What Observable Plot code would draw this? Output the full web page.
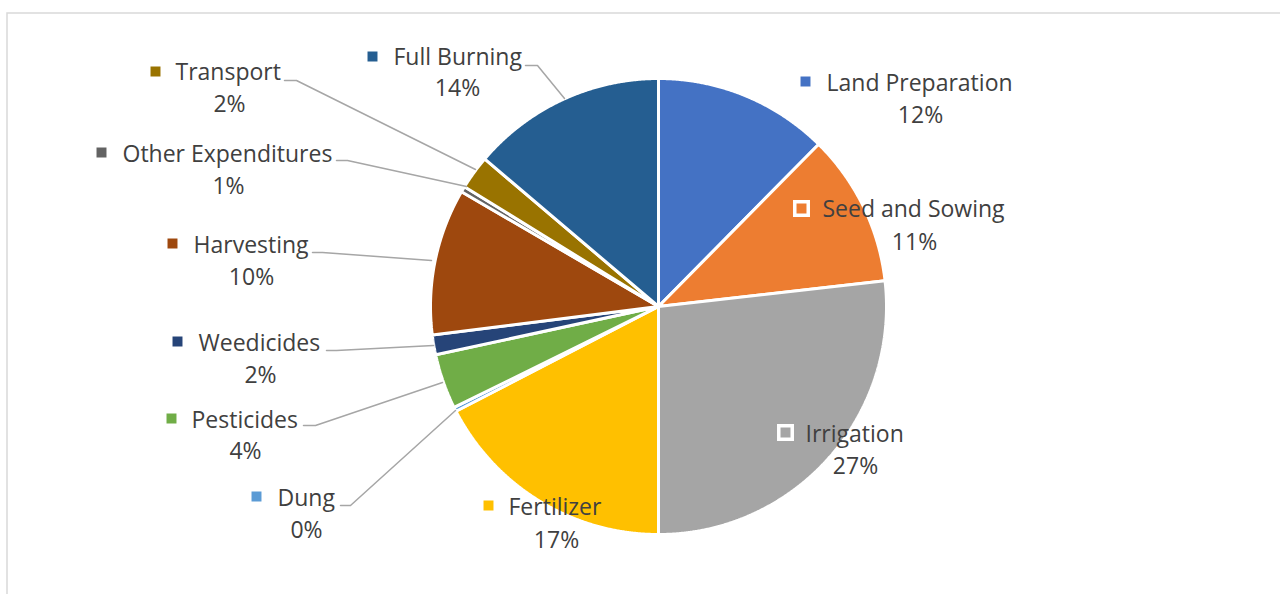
<!DOCTYPE html>
<html>
<head>
<meta charset="utf-8">
<script src="https://cdn.jsdelivr.net/npm/d3@7"></script>
<script src="https://cdn.jsdelivr.net/npm/@observablehq/plot@0.6"></script>
<style>
  html, body { margin: 0; padding: 0; background: #fff; }
  svg { display: block; }
</style>
</head>
<body>
<script>
// ---- data ----
const categories = ["Land Preparation", "Seed and Sowing", "Irrigation", "Fertilizer", "Dung",
  "Pesticides", "Weedicides", "Harvesting", "Other Expenditures", "Transport", "Full Burning"];
const shares = [12.4, 10.8, 26.8, 17.4, 0.3, 3.9, 1.4, 10.4, 0.4, 2.4, 13.8];
const pctLabels = ["12%", "11%", "27%", "17%", "0%", "4%", "2%", "10%", "1%", "2%", "14%"];
const colors = ["#4472C4", "#ED7D31", "#A5A5A5", "#FFC000", "#5B9BD5",
  "#70AD47", "#264478", "#9E480E", "#636363", "#997300", "#255E91"];

// ---- layout (label placement, pixels) ----
const cx = 658, cy = 306, R = 228;
// [marker x, marker y, name start x, name center y, pct center x, pct center y]
const labelPos = [
  [805, 81, 826, 83, 920, 115],
  [801, 208, 822, 209, 914, 242],
  [785, 432, 805, 434, 855, 466],
  [488, 505, 508, 507, 556, 540],
  [256, 496, 277, 498, 306, 530],
  [171, 418, 191, 420, 245, 451],
  [177, 341, 198, 343, 260, 375],
  [172, 243, 193, 245, 251, 277],
  [101, 152, 122, 154, 228, 186],
  [155, 71, 175, 72, 229, 104],
  [372, 56, 393, 57, 457, 88]
];
// leader polylines per category (null = none)
const leaders = [
  null, null, null, null,
  [[340, 505], [350, 505], [455, 410]],
  [[303, 425], [315, 425], [442, 382]],
  [[326, 350], [336, 350], [433, 345]],
  [[312, 252], [322, 252], [431, 260]],
  [[336, 160], [347, 160], [466, 186]],
  [[284, 80], [296, 80], [475, 169]],
  [[525, 65], [537, 65], [564, 98]]
];

// ---- build wedge outlines from data via d3.pie ----
const arcs = d3.pie().sort(null).value(d => d.v).startAngle(0).endAngle(2 * Math.PI)(
  categories.map((name, i) => ({name, v: shares[i]}))
);
const wedgePts = [];
for (const a of arcs) {
  const name = a.data.name;
  wedgePts.push({name, x: cx, y: cy});
  const steps = Math.max(2, Math.ceil((a.endAngle - a.startAngle) / (Math.PI / 720)));
  for (let k = 0; k <= steps; k++) {
    const t = a.startAngle + (a.endAngle - a.startAngle) * k / steps;
    wedgePts.push({name, x: cx + R * Math.sin(t), y: cy - R * Math.cos(t)});
  }
  wedgePts.push({name, x: cx, y: cy});
}

const labels = categories.map((name, i) => ({
  name, pct: pctLabels[i],
  mx: labelPos[i][0], my: labelPos[i][1],
  nx: labelPos[i][2], ny: labelPos[i][3],
  px: labelPos[i][4], py: labelPos[i][5]
}));
const leaderPts = [];
leaders.forEach((l, i) => { if (l) l.forEach(p => leaderPts.push({name: categories[i], x: p[0], y: p[1]})); });

const font = "'Open Sans', sans-serif";
const fs = 23;
const chart = Plot.plot({
  width: 1280,
  height: 594,
  marginTop: 12.5, marginLeft: 6.5, marginRight: 0, marginBottom: 0,
  x: {type: "identity", axis: null},
  y: {type: "identity", axis: null},
  color: {domain: categories, range: colors},
  style: {fontFamily: font, background: "#fff"},
  marks: [
    Plot.frame({stroke: "#d9d9d9", strokeWidth: 1.5, insetRight: -10, insetBottom: -10}),
    Plot.line(wedgePts, {x: "x", y: "y", z: "name", fill: "name", stroke: "white", strokeWidth: 3, strokeLinejoin: "miter", curve: "linear"}),
    Plot.line(leaderPts, {x: "x", y: "y", z: "name", stroke: "#a6a6a6", strokeWidth: 1.5, curve: "linear"}),
    Plot.dot(labels, {x: "mx", y: "my", fill: "name", symbol: "square", r: 7.6, stroke: "white", strokeWidth: 3.5}),
    Plot.text(labels, {x: "nx", y: "ny", text: "name", textAnchor: "start", lineAnchor: "middle", fontSize: fs, fill: "#404040"}),
    Plot.text(labels, {x: "px", y: "py", text: "pct", textAnchor: "middle", lineAnchor: "middle", fontSize: fs, fill: "#404040"})
  ]
});
document.body.appendChild(chart);
</script>
</body>
</html>
